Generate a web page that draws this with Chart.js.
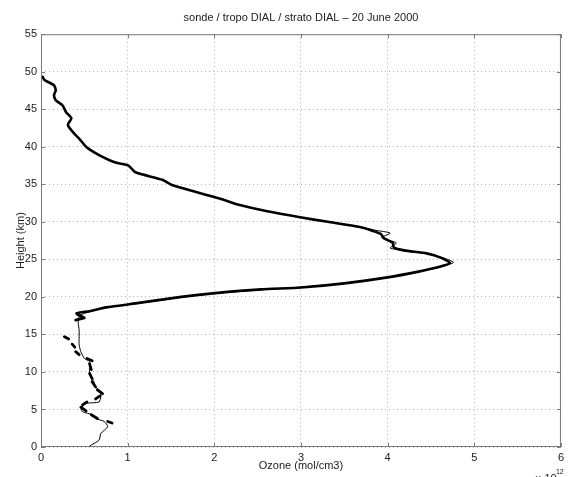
<!DOCTYPE html>
<html><head><meta charset="utf-8">
<script src="https://cdn.jsdelivr.net/npm/chart.js@4.4.0/dist/chart.umd.min.js"></script>
<style>html,body{margin:0;padding:0;background:#fff;overflow:hidden}canvas{display:block}</style>
</head><body>
<canvas id="c" width="568" height="477"></canvas>
<script>
const titleText = 'sonde / tropo DIAL / strato DIAL \u2013 20 June 2000';
const xTitle = 'Ozone (mol/cm3)';
const yTitle = 'Height (km)';
const xExponentBase = '\u00d7 10';
const xExponent = '12';
const xTicks = [0, 1, 2, 3, 4, 5, 6];
const yTicks = [0, 5, 10, 15, 20, 25, 30, 35, 40, 45, 50, 55];

// sonde (thin line), ozone in 1e12 mol/cm3, height in km
const sondeOzone = [0.55,0.58,0.67,0.69,0.77,0.73,0.63,0.59,0.48,0.46,0.52,0.67,0.69,0.69,0.63,0.61,0.58,0.56,0.56,0.56,0.50,0.46,0.44,0.44,0.44,0.43,0.44,0.50,0.75,1.15,1.62,2.00,2.55,3.00,3.52,4.02,4.38,4.62,4.76,4.64,4.46,4.20,4.03,4.10,3.93,4.03,3.85,3.68,3.30,3.00];
const sondeHeight = [0.0,0.27,0.9,1.8,2.7,3.4,3.8,4.3,4.7,5.2,5.8,6.0,6.7,7.4,8.0,8.7,9.4,10.0,10.7,11.4,11.8,12.7,13.6,14.5,15.6,16.5,17.4,17.8,18.6,19.2,19.95,20.45,20.95,21.3,21.85,22.65,23.45,24.0,24.6,25.2,25.75,26.2,26.5,27.2,27.9,28.5,28.9,29.35,30.05,30.6];

// tropo DIAL (thick, broken segments; null = gap)
const tropoOzone = [0.27,0.32,null,0.36,0.39,null,0.40,0.44,null,0.53,0.59,null,0.56,0.57,0.58,null,0.56,0.59,null,0.59,0.63,null,0.65,0.71,null,0.68,0.63,null,0.53,0.48,null,0.46,0.52,null,0.58,0.65,null,0.77,0.82,null,0.40,0.50,0.44];
const tropoHeight = [14.7,14.4,null,13.7,13.3,null,12.7,12.3,null,11.8,11.5,null,11.1,10.7,10.3,null,9.8,9.1,null,8.7,8.0,null,7.6,7.1,null,6.8,6.4,null,6.0,5.6,null,5.3,4.8,null,4.3,3.8,null,3.4,3.2,null,16.9,17.2,17.6];

// strato DIAL (thick line)
const stratoOzone = [0.47,0.41,0.56,0.75,1.13,1.62,2.01,2.54,3.00,3.50,4.00,4.37,4.60,4.72,4.62,4.45,4.19,4.07,4.06,3.96,3.92,3.80,3.68,3.31,2.99,2.61,2.27,2.14,2.00,1.78,1.51,1.40,1.09,1.01,0.86,0.67,0.53,0.44,0.38,0.31,0.35,0.29,0.25,0.17,0.15,0.17,0.15,0.04,0.02];
const stratoHeight = [17.3,17.8,18.1,18.6,19.2,20.0,20.5,21.0,21.25,21.8,22.6,23.4,24.0,24.5,25.2,25.8,26.2,26.6,27.2,27.8,28.4,28.9,29.3,30.0,30.6,31.4,32.3,32.8,33.3,34.0,34.9,35.6,36.6,37.5,37.9,38.9,39.9,41.1,41.8,42.9,43.8,44.6,45.5,46.2,46.9,47.5,48.2,48.9,49.3];

function pts(xs, ys) { return xs.map((x, i) => ({ x: x, y: ys[i] })); }

const fontFam = '"Liberation Sans", Arial, Helvetica, sans-serif';
const textCol = '#222';
const frameCol = '#7a7a7a';
const fs = 11;

const framePlugin = {
  id: 'frame',
  beforeInit(chart) { try { chart.ctx.letterSpacing = '0.4px'; } catch (e) {} },
  afterDatasetsDraw(chart) {
    const { ctx, chartArea: a, scales } = chart;
    ctx.save();
    ctx.strokeStyle = frameCol;
    ctx.lineWidth = 1;
    ctx.strokeRect(a.left + 0.5, a.top + 0.5, a.right - a.left - 1, a.bottom - a.top - 1);
    const tl = 4;
    ctx.beginPath();
    xTicks.forEach(v => {
      const px = Math.round(scales.x.getPixelForValue(v)) + 0.5;
      ctx.moveTo(px, a.bottom); ctx.lineTo(px, a.bottom - tl);
      ctx.moveTo(px, a.top); ctx.lineTo(px, a.top + tl);
    });
    yTicks.forEach(v => {
      const py = Math.round(scales.y.getPixelForValue(v)) + 0.5;
      ctx.moveTo(a.left, py); ctx.lineTo(a.left + tl, py);
      ctx.moveTo(a.right, py); ctx.lineTo(a.right - tl, py);
    });
    ctx.stroke();
    ctx.fillStyle = textCol;
    ctx.textBaseline = 'top';
    ctx.textAlign = 'left';
    ctx.font = fs + 'px ' + fontFam;
    ctx.fillText(xExponentBase, a.right - 26, a.bottom + 26);
    ctx.font = '7px ' + fontFam;
    ctx.fillText(xExponent, a.right - 5, a.bottom + 22);
    ctx.restore();
  }
};

new Chart(document.getElementById('c'), {
  type: 'scatter',
  data: {
    datasets: [
      { label: 'strato DIAL', data: pts(stratoOzone, stratoHeight), showLine: true, borderColor: '#000', borderWidth: 2.6, pointRadius: 0, tension: 0.2, spanGaps: false, borderJoinStyle: 'round', borderCapStyle: 'round' },
      { label: 'tropo DIAL', data: pts(tropoOzone, tropoHeight), showLine: true, borderColor: '#000', borderWidth: 2.8, pointRadius: 0, tension: 0, spanGaps: false, borderJoinStyle: 'round', borderCapStyle: 'round' },
      { label: 'sonde', data: pts(sondeOzone, sondeHeight), showLine: true, borderColor: '#000', borderWidth: 1, pointRadius: 0, tension: 0.2, spanGaps: false }
    ]
  },
  options: {
    responsive: false,
    animation: false,
    devicePixelRatio: 1,
    layout: { padding: { left: 0, right: 3, top: 0, bottom: 0 } },
    plugins: {
      legend: { display: false },
      tooltip: { enabled: false },
      title: {
        display: true, text: titleText, fullSize: false, color: textCol,
        font: { family: fontFam, size: fs, weight: 'normal', lineHeight: 1.2 },
        padding: { top: 11, bottom: 10 }
      }
    },
    scales: {
      x: {
        type: 'linear', min: 0, max: 6,
        afterBuildTicks: s => { s.ticks = xTicks.map(v => ({ value: v })); },
        afterFit: s => { s.height = 30; },
        ticks: { color: textCol, font: { family: fontFam, size: fs }, padding: 4, maxRotation: 0 },
        grid: { color: '#b5b5b5', lineWidth: 1, drawTicks: false },
        border: { display: false, dash: [1, 3] },
        title: { display: true, text: xTitle, color: textCol, font: { family: fontFam, size: fs, lineHeight: 1.2 }, padding: { top: 0, bottom: 4 } }
      },
      y: {
        type: 'linear', min: 0, max: 55,
        afterBuildTicks: s => { s.ticks = yTicks.map(v => ({ value: v })); },
        afterFit: s => { s.width = 41; },
        ticks: { color: textCol, font: { family: fontFam, size: fs }, padding: 4 },
        grid: { color: '#b5b5b5', lineWidth: 1, drawTicks: false },
        border: { display: false, dash: [1, 3] },
        title: { display: true, text: yTitle, color: textCol, font: { family: fontFam, size: fs, lineHeight: 1.2 }, padding: { top: 14, bottom: 0 } }
      }
    }
  },
  plugins: [framePlugin]
});
</script>
</body></html>
